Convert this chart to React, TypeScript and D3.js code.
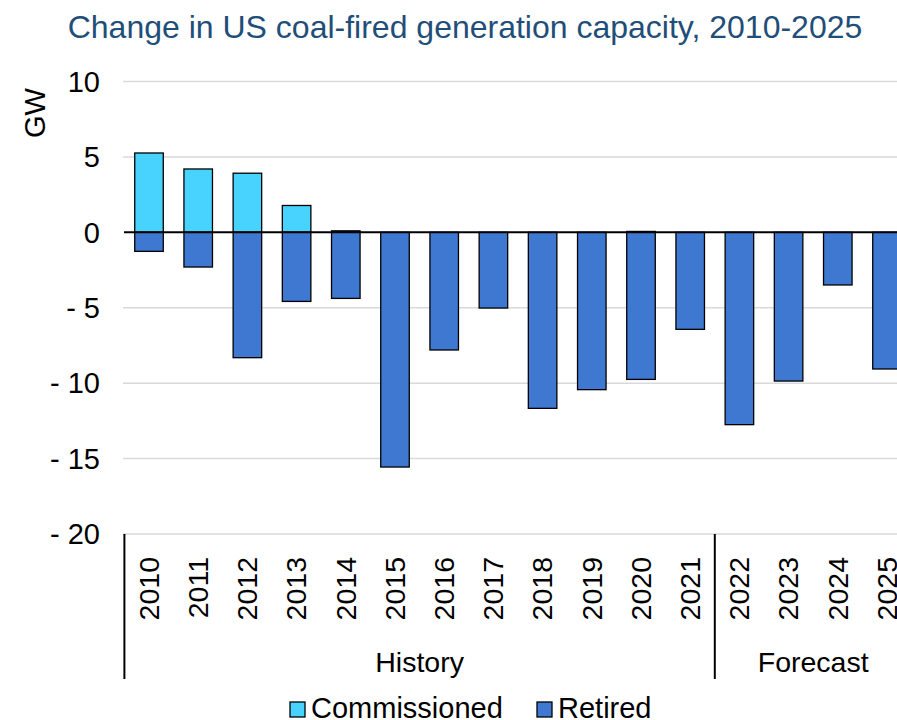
import React from "react";
import * as d3 from "d3";

const years = ["2010","2011","2012","2013","2014","2015","2016","2017","2018","2019","2020","2021","2022","2023","2024","2025"];
const commissioned = [5.26, 4.2, 3.92, 1.78, 0.1, 0, 0, 0, 0, 0, 0.06, 0, 0, 0, 0, 0];
const retired = [-1.26, -2.3, -8.31, -4.58, -4.38, -15.56, -7.8, -5.02, -11.67, -10.43, -9.75, -6.43, -12.75, -9.86, -3.49, -9.06];
const yTicks = [10, 5, 0, -5, -10, -15, -20];
const groups = [
  { label: "History", from: "2010", to: "2021" },
  { label: "Forecast", from: "2022", to: "2025" },
];
const seriesNames = ["Commissioned", "Retired"];
const colors = ["#47D3FE", "#3F78D1"];

const W = 897, H = 720;
const FONT = "'Liberation Sans', Arial, sans-serif";

export default function App() {
  const x = d3.scaleBand<string>().domain(years).range([124.4, 911.6]).padding(0);
  const y = d3.scaleLinear().domain([-20, 10]).range([534, 81.5]);
  const bw = x.bandwidth();
  const barW = bw * 0.58;
  const fmt = (v: number) => (v < 0 ? `- ${Math.abs(v)}` : `${v}`);
  const axisBottom = y(-20);
  const axisEnd = 679;

  return (
    <svg width={W} height={H} style={{ position: "absolute", left: 0, top: 0, background: "#fff" }} fontFamily={FONT}>
      <text x={465} y={38} textAnchor="middle" fontSize={32} fill="#1F4E79">
        Change in US coal-fired generation capacity, 2010-2025
      </text>
      {/* gridlines */}
      {yTicks.filter(t => t !== 0).map(t => (
        <line key={t} x1={123} x2={W} y1={y(t)} y2={y(t)} stroke="#D9D9D9" strokeWidth={1.5} />
      ))}
      {/* y tick labels */}
      {yTicks.map(t => (
        <text key={t} x={100} y={y(t) + 10.3} textAnchor="end" fontSize={29} fill="#000">{fmt(t)}</text>
      ))}
      <text transform={`translate(45,${113}) rotate(-90)`} textAnchor="middle" fontSize={29} fill="#000">GW</text>
      {/* bars */}
      {years.map((yr, i) => {
        const bx = (x(yr) as number) + (bw - barW) / 2;
        return (
          <g key={yr}>
            {commissioned[i] > 0 && (
              <rect x={bx} y={y(commissioned[i])} width={barW} height={y(0) - y(commissioned[i])} fill={colors[0]} stroke="#000" strokeWidth={1.3} />
            )}
            {retired[i] < 0 && (
              <rect x={bx} y={y(0)} width={barW} height={y(retired[i]) - y(0)} fill={colors[1]} stroke="#000" strokeWidth={1.3} />
            )}
          </g>
        );
      })}
      {/* zero line */}
      <line x1={124} x2={W} y1={y(0)} y2={y(0)} stroke="#000" strokeWidth={2} />
      {/* year labels */}
      {years.map(yr => {
        const cx = (x(yr) as number) + bw / 2;
        return (
          <text key={yr} transform={`translate(${cx + 9.8},${axisBottom + 23}) rotate(-90)`} textAnchor="end" fontSize={28.5} fill="#000">{yr}</text>
        );
      })}
      {/* group separators */}
      {groups.map(g => (
        <line key={g.label} x1={x(g.from) as number} x2={x(g.from) as number} y1={axisBottom} y2={axisEnd} stroke="#000" strokeWidth={2} />
      ))}
      {groups.map(g => {
        const gx0 = x(g.from) as number;
        const gx1 = (x(g.to) as number) + bw;
        return (
          <text key={g.label} x={(gx0 + gx1) / 2} y={672} textAnchor="middle" fontSize={28.5} fill="#000">{g.label}</text>
        );
      })}
      {/* legend */}
      {seriesNames.map((s, i) => {
        const lx = i === 0 ? 290 : 537;
        return (
          <g key={s}>
            <rect x={lx} y={702} width={15} height={15} fill={colors[i]} stroke="#000" strokeWidth={1.3} />
            <text x={lx + 21} y={718} fontSize={29} fill="#000">{s}</text>
          </g>
        );
      })}
    </svg>
  );
}
